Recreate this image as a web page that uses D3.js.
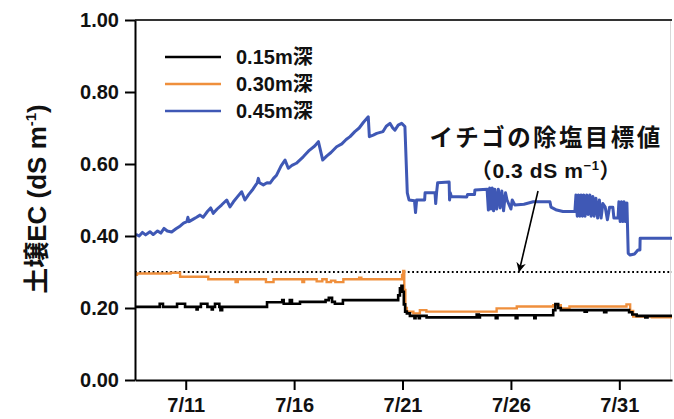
<!DOCTYPE html>
<html>
<head>
<meta charset="utf-8">
<script src="https://cdn.jsdelivr.net/npm/d3@7"></script>
<style>
  html, body { margin: 0; padding: 0; background: #fff; }
  svg { display: block; }
  text { font-family: "Liberation Sans", Arial, "Noto Sans CJK JP", sans-serif; font-weight: bold; }
</style>
</head>
<body>
<svg id="chart" width="674" height="419"></svg>
<script>
// ---- data (day of July, EC dS/m) ----
const seriesNames = ["0.15m深", "0.30m深", "0.45m深"];
const yTicks = [0.00, 0.20, 0.40, 0.60, 0.80, 1.00];
const xTicks = [11, 16, 21, 26, 31];
const xTickLabels = ["7/11", "7/16", "7/21", "7/26", "7/31"];
const targetEC = 0.3;

const depth015 = [
  [8.66,0.203],[9.75,0.203],[9.80,0.212],[9.95,0.203],[10.55,0.203],[10.60,0.212],[10.97,0.203],
  [11.50,0.196],[11.55,0.203],[11.70,0.212],[12.00,0.203],[12.20,0.196],[12.25,0.203],[12.35,0.212],
  [12.55,0.203],[12.60,0.194],[12.68,0.203],[14.66,0.203],[14.75,0.216],[15.20,0.216],[15.45,0.222],
  [15.52,0.212],[15.80,0.222],[15.90,0.212],[16.27,0.217],[17.19,0.217],[17.45,0.222],[17.60,0.228],
  [17.75,0.217],[17.88,0.212],[18.25,0.222],[20.74,0.222],[20.80,0.235],[20.88,0.255],[20.95,0.262],
  [21.00,0.245],[21.06,0.210],[21.12,0.190],[21.20,0.185],[21.34,0.178],[21.55,0.172],[21.60,0.178],
  [21.75,0.172],[21.80,0.178],[22.11,0.174],[24.42,0.182],[24.52,0.174],[24.57,0.180],[25.30,0.172],
  [25.38,0.180],[26.22,0.172],[26.30,0.180],[27.08,0.172],[27.14,0.180],[27.95,0.194],[28.05,0.211],
  [28.18,0.200],[28.30,0.194],[29.40,0.190],[29.50,0.194],[30.30,0.188],[30.40,0.194],[31.45,0.188],
  [31.60,0.182],[31.80,0.178],[32.20,0.174],[32.30,0.178],[33.43,0.178]
];

const depth030 = [
  [8.66,0.292],[8.75,0.296],[10.30,0.298],[10.74,0.287],[12.04,0.280],[13.30,0.272],[13.40,0.280],
  [14.70,0.272],[15.05,0.280],[16.38,0.272],[16.46,0.280],[17.04,0.274],[17.30,0.280],[17.50,0.272],
  [17.70,0.276],[17.90,0.272],[18.27,0.280],[19.00,0.284],[19.10,0.280],[20.98,0.292],[21.03,0.303],
  [21.08,0.250],[21.13,0.200],[21.20,0.190],[21.50,0.185],[21.80,0.194],[22.10,0.190],[25.34,0.199],
  [26.27,0.204],[27.95,0.208],[28.30,0.199],[28.70,0.204],[31.33,0.210],[31.50,0.192],[31.64,0.176],
  [32.50,0.174],[33.43,0.174]
];

const depth045 = [
  [8.70,0.405],[8.85,0.400],[9.00,0.410],[9.15,0.403],[9.35,0.412],[9.50,0.404],[9.70,0.414],[9.85,0.408],
  [10.00,0.421],[10.15,0.414],[10.35,0.411],[10.55,0.420],[10.75,0.428],[10.90,0.436],[11.05,0.440],
  [11.10,0.452],[11.15,0.440],[11.35,0.447],[11.50,0.452],[11.66,0.458],[11.80,0.452],[12.00,0.468],
  [12.15,0.478],[12.27,0.463],[12.45,0.475],[12.65,0.486],[12.89,0.500],[13.04,0.481],[13.20,0.495],
  [13.40,0.510],[13.58,0.523],[13.73,0.500],[13.90,0.515],[14.10,0.530],[14.30,0.548],[14.35,0.560],
  [14.40,0.548],[14.58,0.542],[14.75,0.548],[14.89,0.547],[15.05,0.560],[15.19,0.569],[15.40,0.595],
  [15.58,0.611],[15.73,0.588],[15.90,0.596],[16.10,0.602],[16.42,0.620],[16.70,0.638],[16.95,0.650],
  [17.12,0.662],[17.32,0.611],[17.50,0.622],[17.70,0.632],[17.96,0.648],[18.20,0.656],[18.40,0.668],
  [18.58,0.676],[18.80,0.690],[19.00,0.700],[19.20,0.716],[19.42,0.731],[19.47,0.676],[19.65,0.680],
  [19.81,0.685],[20.10,0.690],[20.25,0.705],[20.42,0.713],[20.55,0.700],[20.65,0.694],[20.80,0.708],
  [20.96,0.713],[21.11,0.704],[21.22,0.520],[21.30,0.500],[21.55,0.498],[21.60,0.465],[21.65,0.500],
  [22.02,0.500],[22.04,0.520],[22.50,0.520],[22.53,0.490],[22.57,0.520],[22.62,0.548],[23.15,0.550],
  [23.17,0.500],[23.20,0.520],[23.25,0.510],[23.96,0.508],[24.00,0.515],[24.32,0.515],[24.34,0.528],
  [24.90,0.530],[24.96,0.472],[25.02,0.533],[25.08,0.475],[25.14,0.533],[25.20,0.470],[25.26,0.530],
  [25.34,0.475],[25.42,0.530],[25.50,0.478],[25.58,0.525],[25.66,0.470],[25.75,0.520],[25.82,0.500],
  [26.00,0.475],[26.06,0.500],[26.18,0.486],[26.60,0.488],[27.03,0.495],[27.34,0.495],[27.80,0.495],
  [27.85,0.480],[28.11,0.472],[28.40,0.468],[28.95,0.468],[29.00,0.514],[29.06,0.455],[29.12,0.514],
  [29.18,0.455],[29.24,0.514],[29.30,0.455],[29.36,0.514],[29.42,0.455],[29.50,0.514],[29.56,0.460],
  [29.64,0.514],[29.70,0.455],[29.78,0.510],[29.84,0.455],[29.92,0.505],[30.00,0.450],[30.08,0.500],
  [30.16,0.450],[30.24,0.490],[30.35,0.480],[30.45,0.445],[30.55,0.480],[30.70,0.480],[30.75,0.450],
  [30.94,0.450],[30.98,0.495],[31.04,0.440],[31.10,0.495],[31.16,0.440],[31.22,0.495],[31.28,0.440],
  [31.35,0.492],[31.41,0.352],[31.50,0.347],[31.70,0.350],[31.86,0.361],[31.95,0.361],[31.96,0.394],
  [33.43,0.394]
];

const colors = ["#000000", "#ef8f3c", "#3f58b5"];

// ---- layout ----
const svg = d3.select("#chart");
const x = d3.scaleLinear().domain([8.66, 33.43]).range([135, 672]);
const y = d3.scaleLinear().domain([0, 1]).range([380, 20]);

// right faint border
svg.append("line").attr("x1", 670.5).attr("x2", 670.5).attr("y1", y(1)).attr("y2", y(0))
  .attr("stroke", "#d8d8d8").attr("stroke-width", 1);
// top frame
svg.append("line").attr("x1", x.range()[0]).attr("x2", x.range()[1]).attr("y1", y(1)).attr("y2", y(1))
  .attr("stroke", "#333").attr("stroke-width", 2);

// target dotted line
svg.append("line").attr("x1", x.range()[0]).attr("x2", x.range()[1])
  .attr("y1", y(targetEC)).attr("y2", y(targetEC))
  .attr("stroke", "#000").attr("stroke-width", 1.8).attr("stroke-dasharray", "1.8,2.6");

// series
const lineStep = d3.line().x(d => x(d[0])).y(d => y(d[1])).curve(d3.curveStepAfter);
const lineLin = d3.line().x(d => x(d[0])).y(d => y(d[1]));
svg.append("path").datum(depth030).attr("d", lineStep).attr("fill", "none")
  .attr("stroke", colors[1]).attr("stroke-width", 2.4);
svg.append("path").datum(depth015).attr("d", lineStep).attr("fill", "none")
  .attr("stroke", colors[0]).attr("stroke-width", 2.6);
svg.append("path").datum(depth045).attr("d", lineLin).attr("fill", "none")
  .attr("stroke", colors[2]).attr("stroke-width", 3).attr("stroke-linejoin", "round");

// axes
const yAxis = d3.axisLeft(y).tickValues(yTicks).tickFormat(d3.format(".2f"))
  .tickSize(10).tickSizeOuter(0).tickPadding(6);
const gy = svg.append("g").attr("transform", `translate(${x.range()[0]},0)`).call(yAxis);
gy.selectAll("text").attr("font-size", 20).attr("fill", "#111");

const xAxis = d3.axisBottom(x).tickValues(xTicks).tickFormat((d, i) => xTickLabels[i])
  .tickSize(10).tickSizeOuter(0).tickPadding(8);
const gx = svg.append("g").attr("transform", `translate(0,${y(0)})`).call(xAxis);
gx.selectAll("text").attr("font-size", 20).attr("fill", "#111");

[gx, gy].forEach(g => {
  g.select(".domain").attr("stroke", "#000").attr("stroke-width", 2);
  g.selectAll(".tick line").attr("stroke", "#000").attr("stroke-width", 2);
});

// y label
const yl = svg.append("text")
  .attr("transform", "translate(46,199) rotate(-90)")
  .attr("text-anchor", "middle").attr("font-size", 26).attr("fill", "#111");
yl.append("tspan").text("土壌EC (dS m");
yl.append("tspan").text("-1").attr("font-size", 15).attr("dy", -10);
yl.append("tspan").text(")").attr("dy", 10);

// legend
const legend = svg.append("g");
seriesNames.forEach((name, i) => {
  const ly = 57 + i * 27;
  legend.append("line").attr("x1", 165).attr("x2", 221).attr("y1", ly).attr("y2", ly)
    .attr("stroke", colors[i]).attr("stroke-width", 2.6);
  legend.append("text").attr("x", 236).attr("y", ly + 7).attr("font-size", 20)
    .attr("fill", "#111").text(name);
});

// annotation
svg.append("text").attr("x", 546).attr("y", 146).attr("text-anchor", "middle")
  .attr("font-size", 23.5).attr("letter-spacing", 2.4).attr("fill", "#111").text("イチゴの除塩目標値");
const a2 = svg.append("text").attr("x", 546).attr("y", 178).attr("text-anchor", "middle")
  .attr("font-size", 21).attr("letter-spacing", 0.6).attr("fill", "#111");
a2.append("tspan").text("（0.3 dS m");
a2.append("tspan").text("−1").attr("font-size", 13).attr("dy", -8);
a2.append("tspan").text("）").attr("dy", 8);

// arrow
const defs = svg.append("defs");
defs.append("marker").attr("id", "ah").attr("viewBox", "0 0 10 10").attr("refX", 9).attr("refY", 5)
  .attr("markerWidth", 6).attr("markerHeight", 6).attr("orient", "auto")
  .append("path").attr("d", "M0,0 L10,5 L0,10 L3,5 Z").attr("fill", "#000");
svg.append("line")
  .attr("x1", x(27.25)).attr("y1", y(0.525))
  .attr("x2", x(26.38)).attr("y2", y(0.302))
  .attr("stroke", "#000").attr("stroke-width", 1.6).attr("marker-end", "url(#ah)");
</script>
</body>
</html>
